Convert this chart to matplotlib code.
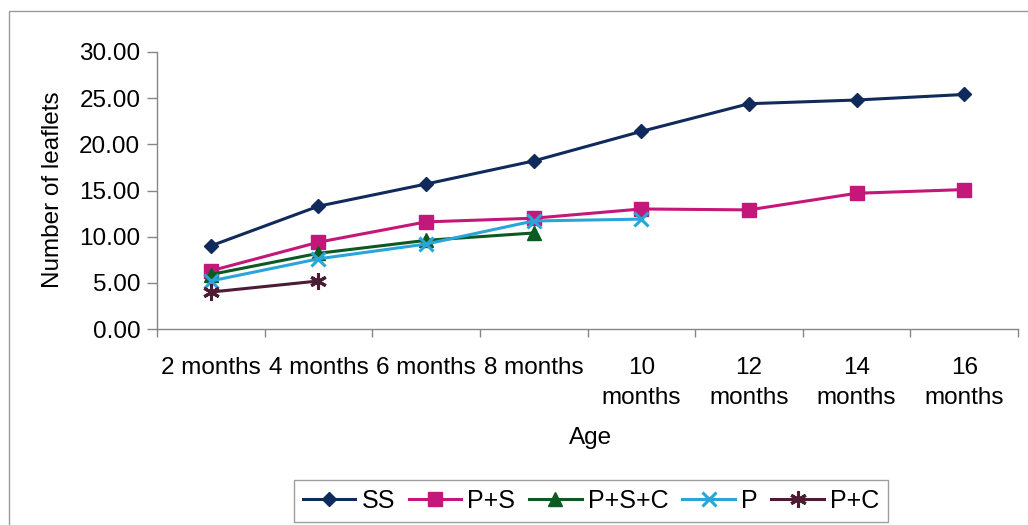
import matplotlib
matplotlib.use("Agg")
import matplotlib.pyplot as plt
from matplotlib.patches import Rectangle

# Leaf counts by plant age for each treatment
ages = ["2 months", "4 months", "6 months", "8 months",
        "10\nmonths", "12\nmonths", "14\nmonths", "16\nmonths"]
ss = [9.0, 13.3, 15.7, 18.2, 21.4, 24.4, 24.8, 25.4]
p_s = [6.3, 9.4, 11.6, 12.0, 13.0, 12.9, 14.7, 15.1]
p_s_c = [5.9, 8.2, 9.6, 10.4]
p = [5.2, 7.6, 9.2, 11.7, 11.9]
p_c = [4.0, 5.2]
y_ticks = [0, 5, 10, 15, 20, 25, 30]

plt.rcParams["font.family"] = ["Liberation Sans", "DejaVu Sans"]
FS = 17.5

W, H = 1028, 525
fig = plt.figure(figsize=(W / 100, H / 100), dpi=100)
fig.patch.set_facecolor("white")

# chart-area border
fig.add_artist(Rectangle((9 / W, -0.05), 1.1, 1 - 11 / H + 0.05,
                         transform=fig.transFigure, fill=False,
                         edgecolor="#9a9a9a", linewidth=1.0))

ax = fig.add_axes([157 / W, 1 - 329 / H, (1018 - 157) / W, (329 - 52) / H])

series = [
    ("SS", ss, "#102a5c", dict(marker="D", markersize=7.5)),
    ("P+S", p_s, "#c4177a", dict(marker="s", markersize=9.5)),
    ("P+S+C", p_s_c, "#0b5a22", dict(marker="^", markersize=9.5)),
    ("P", p, "#2aa5d8", dict(marker="x", markersize=9.5, markeredgewidth=2.2)),
    ("P+C", p_c, "#4d1b35", dict(marker=(6, 2, 0), markersize=12, markeredgewidth=2.2)),
]
for name, vals, color, mk in series:
    xs = [i + 0.5 for i in range(len(vals))]
    ax.plot(xs, vals, color=color, linewidth=2.2, label=name,
            markerfacecolor=color, markeredgecolor=color, **mk)

ax.set_xlim(0, len(ages))
ax.set_ylim(0, 30)
ax.set_yticks(y_ticks)
ax.set_yticklabels([f"{v:.2f}" for v in y_ticks], fontsize=FS)

# category boundaries carry the tick marks, centers carry the labels
ax.set_xticks(range(len(ages) + 1))
ax.set_xticklabels([])
ax.set_xticks([i + 0.5 for i in range(len(ages))], minor=True)
ax.set_xticklabels(ages, minor=True, fontsize=FS, linespacing=1.5)
ax.tick_params(axis="x", which="major", length=6, width=1, color="#868686",
               direction="out")
ax.tick_params(axis="x", which="minor", length=0, pad=20)
ax.tick_params(axis="y", length=7, width=1, color="#868686", direction="out",
               pad=5)

for s in ("top", "right"):
    ax.spines[s].set_visible(False)
for s in ("left", "bottom"):
    ax.spines[s].set_color("#868686")
    ax.spines[s].set_linewidth(1.0)

fig.text(53 / W, 1 - 190 / H, "Number of leaflets", rotation=90,
         ha="center", va="center", fontsize=FS)
fig.text(591 / W, 1 - 438 / H, "Age", ha="center", va="center", fontsize=FS)

leg = fig.legend(loc="center", bbox_to_anchor=(591 / W, 1 - 501 / H),
                 bbox_transform=fig.transFigure, ncol=5, fontsize=18,
                 frameon=True, fancybox=False, edgecolor="#868686",
                 handlelength=2.1, handletextpad=0.25, columnspacing=0.55,
                 borderpad=0.35, borderaxespad=0)
leg.get_frame().set_linewidth(1.0)

fig.savefig("out.png", dpi=100, facecolor="white")
